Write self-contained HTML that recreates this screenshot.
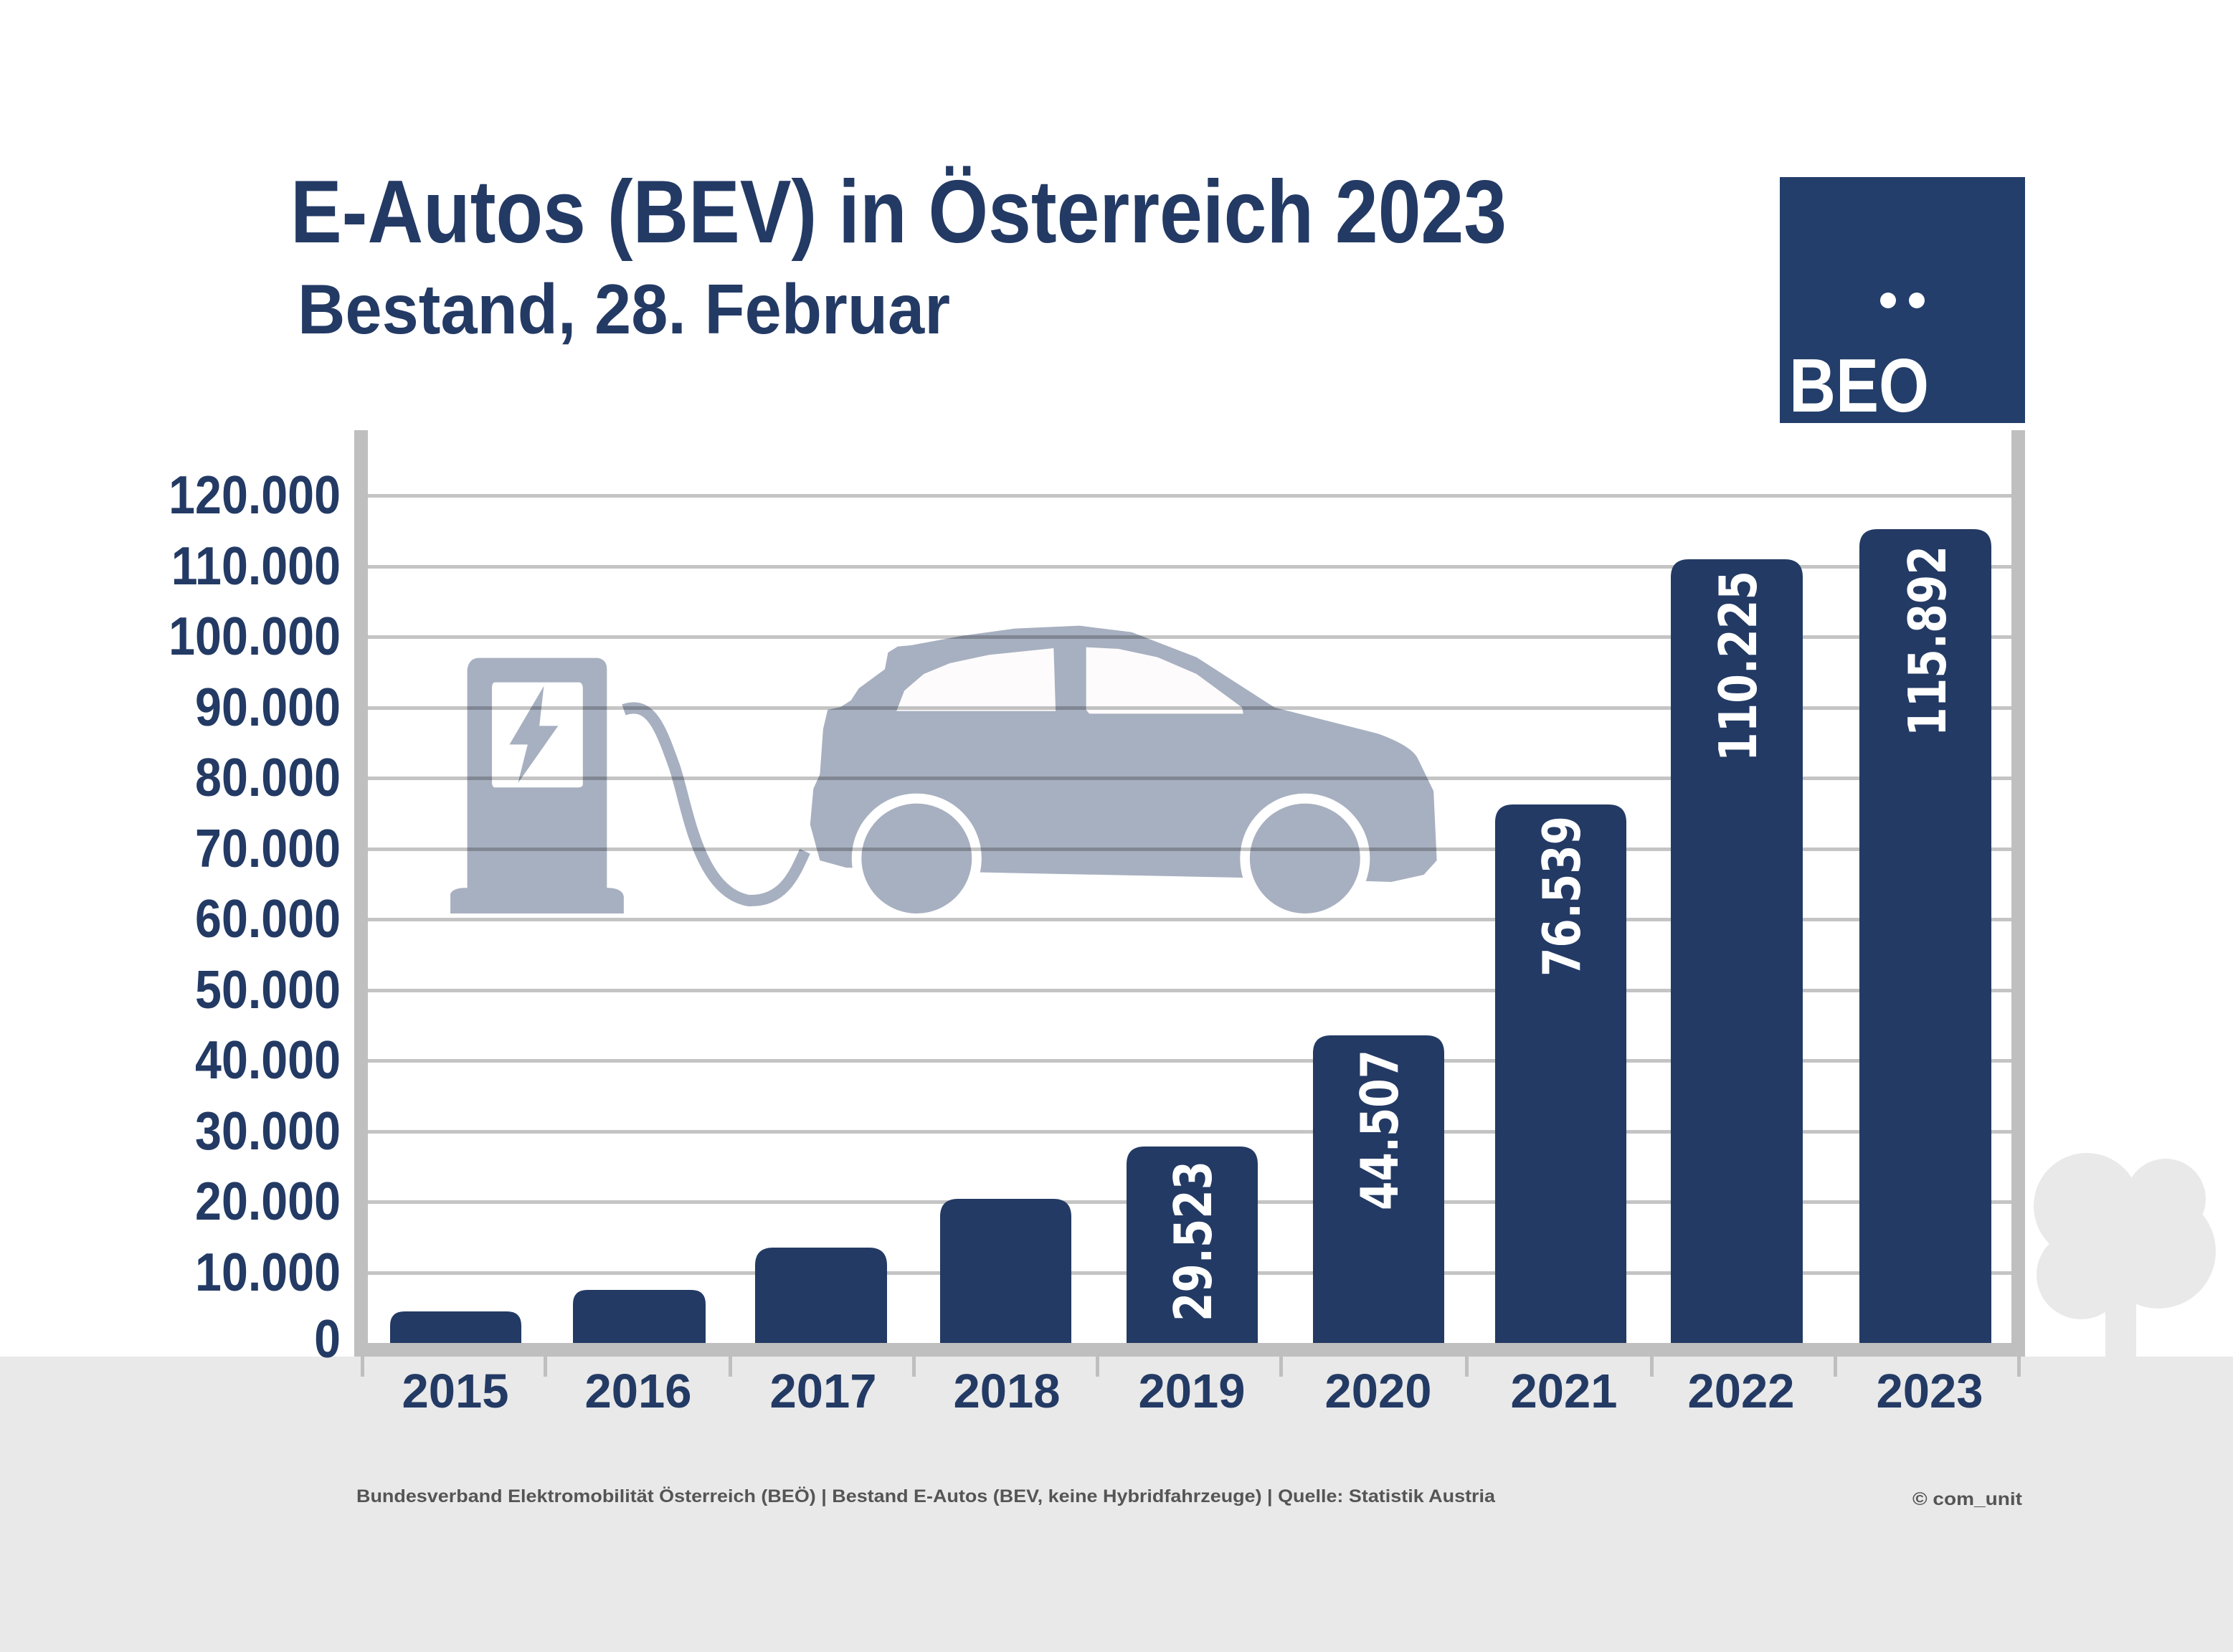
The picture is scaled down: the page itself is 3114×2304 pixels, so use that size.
<!DOCTYPE html>
<html><head><meta charset="utf-8"><style>
html,body{margin:0;padding:0;background:#fff}
svg{display:block}
text{font-family:"Liberation Sans",sans-serif}
</style></head><body>
<svg width="3114" height="2304" viewBox="0 0 3114 2304" xmlns="http://www.w3.org/2000/svg">
<rect width="3114" height="2304" fill="#fff"/>
<rect x="0" y="1892" width="3114" height="412" fill="#e9e9e9"/>
<!-- tree -->
<g fill="#e9e9e9">
<circle cx="2910" cy="1682" r="74"/><circle cx="3020" cy="1672" r="56"/>
<circle cx="2902" cy="1778" r="62"/><circle cx="3010" cy="1745" r="80"/>
<rect x="2936" y="1780" width="43" height="115"/>
</g>
<!-- titles -->
<text x="405" y="338" font-size="124" font-weight="bold" fill="#233a64" textLength="1696" lengthAdjust="spacingAndGlyphs">E-Autos (BEV) in Österreich 2023</text>
<text x="415" y="465" font-size="98" font-weight="bold" fill="#233a64" textLength="910" lengthAdjust="spacingAndGlyphs">Bestand, 28. Februar</text>
<!-- logo -->
<rect x="2482" y="247" width="342" height="343" fill="#233e6a"/>
<circle cx="2633" cy="419" r="11" fill="#fff"/><circle cx="2673" cy="419" r="11" fill="#fff"/>
<text x="2495" y="574" font-size="106" font-weight="bold" fill="#fff" textLength="195" lengthAdjust="spacingAndGlyphs">BEO</text>
<!-- car & charger -->
<defs>
<mask id="m" maskUnits="userSpaceOnUse" x="0" y="0" width="3000" height="2000">
<rect x="0" y="0" width="3000" height="2000" fill="#fff"/>
<ellipse cx="749" cy="1042" rx="100" ry="272" fill="#000"/>
<ellipse cx="1347" cy="1042" rx="100" ry="272" fill="#000"/>
</mask>
</defs>
<g transform="translate(600,850) scale(0.9056,0.3333)" fill="#a7b0c0">
<path d="M31 1272 L31 1190 Q35 1165 55 1165 L57 1165 L57 250 Q60 203 75 203 L258 203 Q272 210 272 250 L272 1165 Q295 1165 298 1200 L298 1272 Z"/>
<path d="M100 305 L230 305 Q235 310 235 330 L235 730 Q235 745 228 745 L100 745 Q95 745 95 720 L95 330 Q95 305 100 305 Z" fill="#fff"/>
<path d="M175 320 L168 487 L197 487 L135 727 L150 565 L122 565 Z"/>
<path d="M298 420 C 340 380, 355 500, 375 650 S 410 1180, 490 1218 C 545 1225, 562 1100, 577 1012" fill="none" stroke="#a7b0c0" stroke-width="16" vector-effect="non-scaling-stroke"/>
<g mask="url(#m)">
<path d="M640 1080 L600 1050 L585 900 L590 750 L600 690 L605 500 L612 420 L632 408 L648 380 L660 330 L700 250 L705 180 L720 155 L740 150 L820 110 L900 80 L1000 68 L1080 95 L1180 200 L1300 410 L1460 520 Q1510 570 1520 620 L1545 760 L1550 1050 L1530 1110 L1480 1140 L1300 1125 L848 1100 Z"/>
</g>
<path d="M718 425 L730 340 L760 270 L800 225 L860 190 L960 162 L963 425 Z" fill="#fdfbfc"/>
<path d="M1010 158 L1060 165 L1120 200 L1180 270 L1250 410 L1252 436 L1015 436 L1010 420 Z" fill="#fdfbfc"/>
<ellipse cx="749" cy="1042" rx="85" ry="230"/>
<ellipse cx="1347" cy="1042" rx="85" ry="230"/>
</g>
<!-- gridlines -->
<g fill="#c4c4c4" style="mix-blend-mode:multiply">
<rect x="513" y="689" width="2292" height="5"/>
<rect x="513" y="788" width="2292" height="5"/>
<rect x="513" y="886" width="2292" height="5"/>
<rect x="513" y="985" width="2292" height="5"/>
<rect x="513" y="1083" width="2292" height="5"/>
<rect x="513" y="1182" width="2292" height="5"/>
<rect x="513" y="1280" width="2292" height="5"/>
<rect x="513" y="1379" width="2292" height="5"/>
<rect x="513" y="1477" width="2292" height="5"/>
<rect x="513" y="1576" width="2292" height="5"/>
<rect x="513" y="1674" width="2292" height="5"/>
<rect x="513" y="1773" width="2292" height="5"/>
</g>
<!-- bars -->
<g fill="#233a64">
<path d="M544 1873 L544 1849 Q544 1829 564 1829 L707 1829 Q727 1829 727 1849 L727 1873 Z"/>
<path d="M799 1873 L799 1819 Q799 1799 819 1799 L964 1799 Q984 1799 984 1819 L984 1873 Z"/>
<path d="M1053 1873 L1053 1765 Q1053 1740 1078 1740 L1212 1740 Q1237 1740 1237 1765 L1237 1873 Z"/>
<path d="M1311 1873 L1311 1697 Q1311 1672 1336 1672 L1469 1672 Q1494 1672 1494 1697 L1494 1873 Z"/>
<path d="M1571 1873 L1571 1624 Q1571 1599 1596 1599 L1729 1599 Q1754 1599 1754 1624 L1754 1873 Z"/>
<path d="M1831 1873 L1831 1469 Q1831 1444 1856 1444 L1989 1444 Q2014 1444 2014 1469 L2014 1873 Z"/>
<path d="M2085 1873 L2085 1147 Q2085 1122 2110 1122 L2243 1122 Q2268 1122 2268 1147 L2268 1873 Z"/>
<path d="M2330 1873 L2330 805 Q2330 780 2355 780 L2489 780 Q2514 780 2514 805 L2514 1873 Z"/>
<path d="M2593 1873 L2593 763 Q2593 738 2618 738 L2752 738 Q2777 738 2777 763 L2777 1873 Z"/>
</g>
<!-- value labels -->
<g font-family="'DejaVu Sans',sans-serif" font-weight="bold" font-size="72" fill="#fff" text-anchor="end">
<text transform="translate(1689,1619) rotate(-90)" style="font-family:'DejaVu Sans',sans-serif" textLength="224" lengthAdjust="spacingAndGlyphs">29.523</text>
<text transform="translate(1949,1464) rotate(-90)" style="font-family:'DejaVu Sans',sans-serif" textLength="224" lengthAdjust="spacingAndGlyphs">44.507</text>
<text transform="translate(2203,1138) rotate(-90)" style="font-family:'DejaVu Sans',sans-serif" textLength="224" lengthAdjust="spacingAndGlyphs">76.539</text>
<text transform="translate(2449,796) rotate(-90)" style="font-family:'DejaVu Sans',sans-serif" textLength="266" lengthAdjust="spacingAndGlyphs">110.225</text>
<text transform="translate(2713,761) rotate(-90)" style="font-family:'DejaVu Sans',sans-serif" textLength="266" lengthAdjust="spacingAndGlyphs">115.892</text>
</g>
<!-- axes -->
<g fill="#bfbfbf">
<rect x="494" y="600" width="19" height="1292"/>
<rect x="2805" y="600" width="19" height="1292"/>
<rect x="494" y="1873" width="2330" height="19"/>
<rect x="503" y="1885" width="5" height="35"/><rect x="758" y="1885" width="5" height="35"/>
<rect x="1016" y="1885" width="5" height="35"/><rect x="1272" y="1885" width="5" height="35"/>
<rect x="1528" y="1885" width="5" height="35"/><rect x="1784" y="1885" width="5" height="35"/>
<rect x="2043" y="1885" width="5" height="35"/><rect x="2301" y="1885" width="5" height="35"/>
<rect x="2557" y="1885" width="5" height="35"/><rect x="2813" y="1885" width="5" height="35"/>
</g>
<!-- y labels -->
<g font-size="75" font-weight="bold" fill="#233a64" text-anchor="end">
<text transform="translate(475,716) scale(0.885,1)">120.000</text>
<text transform="translate(475,815) scale(0.885,1)">110.000</text>
<text transform="translate(475,913) scale(0.885,1)">100.000</text>
<text transform="translate(475,1012) scale(0.885,1)">90.000</text>
<text transform="translate(475,1110) scale(0.885,1)">80.000</text>
<text transform="translate(475,1209) scale(0.885,1)">70.000</text>
<text transform="translate(475,1307) scale(0.885,1)">60.000</text>
<text transform="translate(475,1406) scale(0.885,1)">50.000</text>
<text transform="translate(475,1504) scale(0.885,1)">40.000</text>
<text transform="translate(475,1603) scale(0.885,1)">30.000</text>
<text transform="translate(475,1701) scale(0.885,1)">20.000</text>
<text transform="translate(475,1800) scale(0.885,1)">10.000</text>
<text transform="translate(475,1893) scale(0.885,1)">0</text>
</g>
<!-- year labels -->
<g font-size="67" font-weight="bold" fill="#233a64" text-anchor="middle">
<text x="635" y="1963">2015</text><text x="890" y="1963">2016</text>
<text x="1148" y="1963">2017</text><text x="1404" y="1963">2018</text>
<text x="1662" y="1963">2019</text><text x="1922" y="1963">2020</text>
<text x="2181" y="1963">2021</text><text x="2428" y="1963">2022</text>
<text x="2691" y="1963">2023</text>
</g>
<!-- footer -->
<text x="497" y="2095" font-size="25" font-weight="bold" fill="#555" textLength="1588" lengthAdjust="spacingAndGlyphs">Bundesverband Elektromobilität Österreich (BEÖ) | Bestand E-Autos (BEV, keine Hybridfahrzeuge) | Quelle: Statistik Austria</text>
<text x="2667" y="2099" font-size="25" font-weight="bold" fill="#555" textLength="153" lengthAdjust="spacingAndGlyphs">© com_unit</text>
</svg>
</body></html>
